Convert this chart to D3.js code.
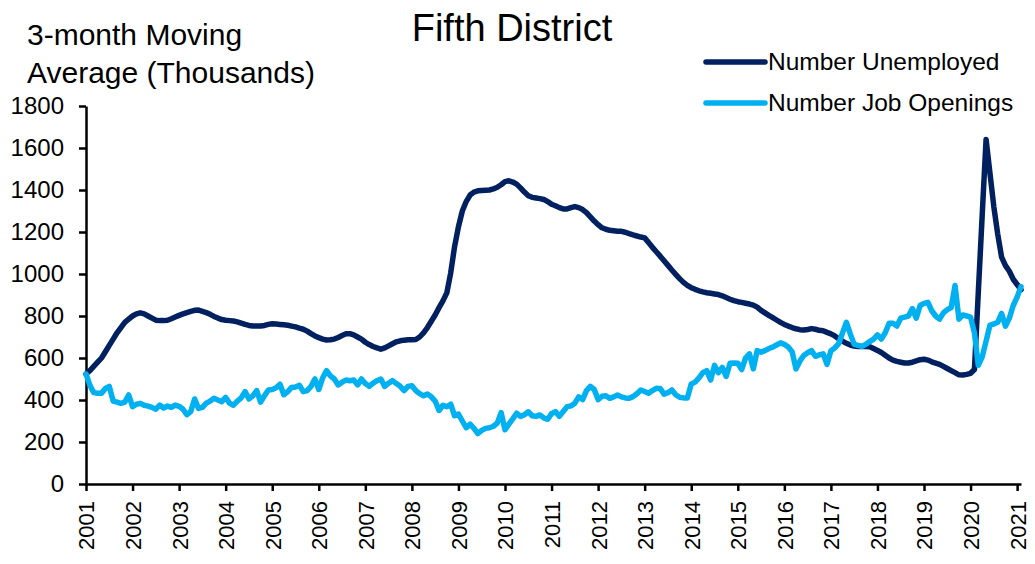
<!DOCTYPE html>
<html>
<head>
<meta charset="utf-8">
<script src="https://cdn.jsdelivr.net/npm/d3@7"></script>
<style>
  body { margin: 0; background: #fff; }
  svg { display: block; font-family: "Liberation Sans", Arial, sans-serif; }
</style>
</head>
<body>
<svg id="chart" width="1035" height="564"></svg>
<script>
// monthly, Jan 2001 .. Feb 2021 (thousands, 3-month moving average)
const yearLabels = ['2001', '2002', '2003', '2004', '2005', '2006', '2007', '2008', '2009', '2010',
  '2011', '2012', '2013', '2014', '2015', '2016', '2017', '2018', '2019', '2020', '2021'];
const yTicks = [0, 200, 400, 600, 800, 1000, 1200, 1400, 1600, 1800];

const unemployed = [
  524, 540, 560, 580, 600, 630, 660, 690, 720, 745, 770, 785,           // 2001
  800, 810, 815, 810, 800, 790, 780, 778, 778, 780, 787, 795,           // 2002
  803, 810, 816, 822, 827, 828, 822, 816, 808, 798, 790, 783,           // 2003
  780, 778, 776, 772, 766, 760, 755, 752, 752, 752, 755, 760,           // 2004
  763, 762, 760, 758, 756, 752, 748, 742, 737, 728, 716, 705,           // 2005
  697, 690, 686, 687, 690, 698, 707, 715, 716, 710, 700, 690,           // 2006
  675, 664, 655, 648, 642, 648, 658, 668, 677, 682, 685, 687,           // 2007
  687, 688, 700, 720, 745, 775, 805, 840, 872, 910, 1005, 1130,         // 2008
  1225, 1300, 1345, 1376, 1390, 1396, 1398, 1399, 1400, 1405, 1413, 1425, // 2009
  1440, 1444, 1438, 1428, 1410, 1390, 1373, 1365, 1362, 1359, 1355, 1345, // 2010
  1332, 1325, 1316, 1310, 1310, 1316, 1321, 1316, 1307, 1292, 1272, 1252, // 2011
  1235, 1220, 1213, 1208, 1206, 1204, 1203, 1199, 1192, 1186, 1181, 1176, // 2012
  1172, 1150, 1127, 1106, 1085, 1063, 1041, 1019, 998, 978, 960, 946,   // 2013
  935, 927, 920, 915, 911, 908, 905, 902, 896, 888, 880, 873,           // 2014
  868, 865, 861, 857, 852, 842, 827, 815, 803, 792, 781, 770,           // 2015
  760, 752, 745, 739, 735, 733, 736, 740, 737, 732, 730, 722,           // 2016
  715, 705, 692, 680, 670, 662, 657, 655, 655, 655, 654, 645,           // 2017
  636, 626, 613, 600, 590, 584, 580, 576, 576, 580, 586, 592,           // 2018
  594, 590, 582, 576, 570, 560, 550, 540, 530, 520, 519, 522,           // 2019
  527, 545, 915, 1280, 1641, 1480, 1320, 1190, 1080, 1040, 1013, 975,   // 2020
  950, 925                                                              // 2021
];

const openings = [
  524, 470, 435, 432, 432, 455, 465, 395, 390, 384, 390, 424,  // 2001
  368, 380, 384, 375, 371, 365, 356, 376, 362, 371, 365, 376,  // 2002
  370, 356, 330, 345, 405, 360, 365, 385, 395, 408, 400, 392,  // 2003
  412, 385, 375, 395, 410, 440, 405, 420, 445, 390, 420, 448,  // 2004
  450, 458, 475, 425, 440, 460, 462, 470, 440, 445, 465, 500,  // 2005
  450, 505, 540, 515, 500, 472, 485, 495, 492, 495, 472, 500,  // 2006
  478, 465, 480, 492, 500, 465, 480, 492, 478, 465, 445, 465,  // 2007
  468, 445, 430, 420, 428, 415, 395, 350, 375, 368, 380, 325,  // 2008
  333, 300, 268, 285, 265, 240, 255, 265, 268, 275, 290, 340,  // 2009
  258, 285, 310, 337, 322, 330, 344, 325, 322, 329, 315, 308,  // 2010
  335, 345, 322, 345, 368, 372, 385, 415, 402, 445, 465, 450,  // 2011
  402, 418, 420, 408, 415, 424, 415, 410, 408, 416, 430, 448,  // 2012
  440, 432, 445, 456, 455, 428, 435, 448, 425, 413, 410, 410,  // 2013
  476, 485, 505, 530, 540, 495, 565, 530, 555, 512, 575, 576,  // 2014
  575, 545, 600, 620, 548, 635, 628, 635, 645, 652, 662, 672,  // 2015
  665, 652, 630, 548, 585, 612, 625, 635, 608, 615, 620, 570,  // 2016
  635, 648, 668, 720, 770, 715, 665, 660, 655, 665, 678, 690,  // 2017
  710, 690, 720, 765, 765, 752, 790, 795, 800, 835, 790, 850,  // 2018
  860, 865, 825, 800, 785, 815, 830, 840, 945, 785, 805, 800,  // 2019
  795, 720, 565, 605, 680, 757, 762, 770, 812, 752, 790, 850,  // 2020
  890, 940                                                     // 2021
];

const series = [
  { name: 'Number Unemployed', values: unemployed, color: '#002060' },
  { name: 'Number Job Openings', values: openings, color: '#00B0F0' }
];

const svg = d3.select('#chart');

const x = d3.scaleLinear().domain([0, unemployed.length - 1]).range([86, 1021]);
const y = d3.scaleLinear().domain([0, 1800]).range([484, 106]);

// axes
const xAxis = d3.axisBottom(x)
  .tickValues(yearLabels.map((d, i) => i * 12))
  .tickFormat((d, i) => yearLabels[i])
  .tickSize(7)
  .tickSizeOuter(0);

const gx = svg.append('g')
  .attr('transform', `translate(0,${y(0)})`)
  .call(xAxis);

gx.selectAll('text')
  .attr('transform', 'rotate(-90)')
  .attr('x', -17)
  .attr('y', 0)
  .attr('dy', '0.36em')
  .style('text-anchor', 'end')
  .style('font-size', '22px');

const yAxis = d3.axisLeft(y)
  .tickValues(yTicks)
  .tickFormat(d3.format('d'))
  .tickSize(7)
  .tickSizeOuter(0)
  .tickPadding(15);

const gy = svg.append('g')
  .attr('transform', `translate(${x(0)},0)`)
  .call(yAxis);

gy.selectAll('text').style('font-size', '24px');

svg.selectAll('.domain, .tick line')
  .attr('stroke', '#000')
  .attr('stroke-width', 2.5);
svg.selectAll('.tick text').attr('fill', '#000').style('font-family', '"Liberation Sans", Arial, sans-serif');

// lines
const line = d3.line()
  .x((d, i) => x(i))
  .y(d => y(d));

svg.selectAll('.series')
  .data(series)
  .enter()
  .append('path')
  .attr('class', 'series')
  .attr('d', d => line(d.values))
  .attr('fill', 'none')
  .attr('stroke', d => d.color)
  .attr('stroke-width', 5.5)
  .attr('stroke-linejoin', 'round')
  .attr('stroke-linecap', 'round');

// title and axis title
svg.append('text')
  .attr('x', 512)
  .attr('y', 41)
  .attr('text-anchor', 'middle')
  .style('font-size', '38px')
  .text('Fifth District');

const ylab = svg.append('text')
  .style('font-size', '30px');
ylab.append('tspan').attr('x', 27).attr('y', 45).text('3-month Moving');
ylab.append('tspan').attr('x', 27).attr('y', 83).text('Average (Thousands)');

// legend
const legend = svg.selectAll('.legend')
  .data(series)
  .enter()
  .append('g')
  .attr('class', 'legend')
  .attr('transform', (d, i) => `translate(706,${62 + i * 41})`);

legend.append('line')
  .attr('x1', 0)
  .attr('x2', 59)
  .attr('stroke', d => d.color)
  .attr('stroke-width', 5.5)
  .attr('stroke-linecap', 'round');

legend.append('text')
  .attr('x', 62)
  .attr('y', 8)
  .style('font-size', '24.5px')
  .text(d => d.name);
</script>
</body>
</html>
